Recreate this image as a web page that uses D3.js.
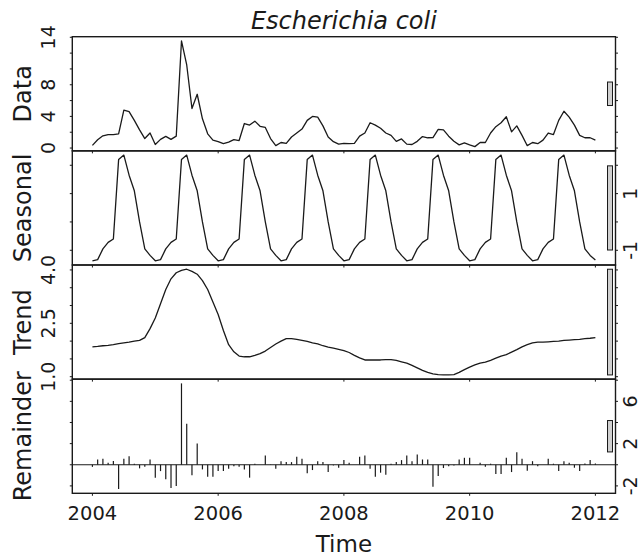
<!DOCTYPE html>
<meta charset="utf-8">
<body style="margin:0;background:#fff">
<script src="https://d3js.org/d3.v7.min.js"></script>
<script>

var width = 642,
    height = 560;

// monthly series, Jan 2004 .. Jan 2012
var startYear = 2004,
    freq = 12;

var dataVals = [
  0.34, 1.05, 1.55, 1.70, 1.70, 1.80, 4.80, 4.60, 3.50, 2.30, 1.20, 1.90,
  0.45, 1.10, 1.48, 1.10, 1.50, 13.54, 10.5, 5.00, 6.80, 3.70, 1.80, 1.00,
  0.80, 0.55, 0.75, 1.06, 0.95, 3.10, 2.90, 3.40, 2.75, 2.60, 1.20, 0.30,
  0.70, 0.60, 1.40, 1.90, 2.40, 3.50, 4.00, 3.90, 2.80, 1.40, 0.80, 0.50,
  0.60, 0.55, 0.60, 1.50, 1.90, 3.20, 2.90, 2.50, 1.90, 1.60, 0.85, 1.15,
  0.50, 0.45, 0.85, 1.45, 1.30, 1.32, 2.35, 2.30, 1.50, 0.85, 0.40, 0.65,
  0.40, 0.18, 0.70, 0.70, 1.90, 2.70, 3.20, 3.95, 2.05, 2.80, 1.60, 0.30,
  0.70, 0.55, 1.00, 1.90, 1.70, 3.50, 4.65, 3.90, 2.90, 1.60, 1.30, 1.30,
  1.00
];

var seasonal = [
  -1.37, -1.33, -0.95, -0.72, -0.60, 2.20, 2.36, 1.65, 1.10, 0.00, -0.95, -1.18,
  -1.37, -1.33, -0.95, -0.72, -0.60, 2.20, 2.36, 1.65, 1.10, 0.00, -0.95, -1.18,
  -1.37, -1.33, -0.95, -0.72, -0.60, 2.20, 2.36, 1.65, 1.10, 0.00, -0.95, -1.18,
  -1.37, -1.33, -0.95, -0.72, -0.60, 2.20, 2.36, 1.65, 1.10, 0.00, -0.95, -1.18,
  -1.37, -1.33, -0.95, -0.72, -0.60, 2.20, 2.36, 1.65, 1.10, 0.00, -0.95, -1.18,
  -1.37, -1.33, -0.95, -0.72, -0.60, 2.20, 2.36, 1.65, 1.10, 0.00, -0.95, -1.18,
  -1.37, -1.33, -0.95, -0.72, -0.60, 2.20, 2.36, 1.65, 1.10, 0.00, -0.95, -1.18,
  -1.37, -1.33, -0.95, -0.72, -0.60, 2.20, 2.36, 1.65, 1.10, 0.00, -0.95, -1.18,
  -1.34
];

var trend = [
  1.84, 1.85, 1.87, 1.88, 1.90, 1.93, 1.95, 1.97, 2.00, 2.02, 2.10, 2.35,
  2.65, 3.05, 3.45, 3.75, 3.92, 3.99, 4.02, 3.96, 3.88, 3.70, 3.45, 3.10,
  2.75, 2.30, 1.90, 1.70, 1.58, 1.56, 1.56, 1.60, 1.65, 1.72, 1.82, 1.92,
  2.00, 2.07, 2.07, 2.05, 2.02, 1.99, 1.95, 1.92, 1.87, 1.83, 1.80, 1.77,
  1.73, 1.68, 1.60, 1.53, 1.47, 1.47, 1.47, 1.47, 1.48, 1.48, 1.46, 1.42,
  1.38, 1.32, 1.25, 1.18, 1.12, 1.08, 1.06, 1.05, 1.05, 1.06, 1.12, 1.20,
  1.27, 1.33, 1.38, 1.41, 1.46, 1.52, 1.58, 1.62, 1.69, 1.76, 1.84, 1.90,
  1.95, 1.97, 1.97, 1.98, 1.99, 2.00, 2.02, 2.03, 2.04, 2.05, 2.07, 2.08,
  2.10
];

var remainder = [
  -0.20, 0.50, 0.56, 0.20, 0.35, -2.30, 0.56, 0.81, 0.10, -0.34, -0.19, 0.50,
  -1.22, -0.60, -1.38, -2.20, -2.00, 7.70, 3.88, -1.00, 2.00, -0.44, -1.13, -1.13,
  -0.60, -0.60, -0.38, -0.13, -0.19, -0.44, -1.22, 0.10, 0.00, 0.88, 0.03, -0.38,
  0.34, 0.25, 0.25, 0.75, 0.56, -0.81, -0.50, 0.34, 0.25, -0.69, -0.06, -0.28,
  0.44, 0.19, 0.00, 0.75, 0.88, -0.38, -1.13, -0.75, -0.94, 0.10, 0.25, 0.44,
  0.88, 0.34, 0.97, 0.50, 0.50, -2.07, -1.06, -0.31, -0.13, -0.06, 0.50, 0.66,
  0.66, 0.00, 0.19, -0.19, 0.10, -0.88, -0.88, 0.66, -0.69, 1.19, 0.56, -0.56,
  0.34, -0.13, 0.00, 0.56, 0.10, -0.60, 0.34, 0.19, -0.28, -0.60, 0.13, 0.44,
  0.13
];

var yearTicks = [2004, 2006, 2008, 2010, 2012];

// R prints a plain hyphen for negatives
function plain(d) { return String(d); }
function oneDec(d) { return d.toFixed(1); }

var panels = [
  { name: "Data",      values: dataVals,  ticks: [0, 2, 4, 6, 8, 10, 12, 14], labels: [0, 4, 8, 14], side: "left",  fmt: plain },
  { name: "Seasonal",  values: seasonal,  ticks: [-1, 0, 1, 2],              labels: [-1, 1],       side: "right", fmt: plain },
  { name: "Trend",     values: trend,     ticks: [1, 1.5, 2, 2.5, 3, 3.5, 4], labels: [1, 2.5, 4],  side: "left",  fmt: oneDec },
  { name: "Remainder", values: remainder, ticks: [-2, 0, 2, 4, 6, 8],        labels: [-2, 2, 6],    side: "right", fmt: plain, bars: true }
];

var plotLeft = 72.3, plotRight = 615.5, plotTop = 36.7, panelH = 114.15;
var font = "DejaVu Sans, Verdana, sans-serif";
var ink = "#1a1a1a";

var svg = d3.select("body").append("svg")
    .attr("width", width)
    .attr("height", height)
    .style("display", "block");

var t0 = startYear, t1 = startYear + (dataVals.length - 1) / freq;
var x = d3.scaleLinear()
    .domain([t0 - 0.04 * (t1 - t0), t1 + 0.04 * (t1 - t0)])
    .range([plotLeft, plotRight]);

function time(i) { return startYear + i / freq; }

// y scale per panel, with R's 4% padding
panels.forEach(function(p, k) {
  var ext = d3.extent(p.values), pad = 0.04 * (ext[1] - ext[0]);
  p.range = ext[1] - ext[0];
  p.y0 = plotTop + k * panelH;
  p.y = d3.scaleLinear()
      .domain([ext[0] - pad, ext[1] + pad])
      .range([p.y0 + panelH, p.y0]);
});

// range bars all show the same span (the smallest one)
var minRange = d3.min(panels, function(p) { return p.range; });

svg.append("text")
    .attr("x", (plotLeft + plotRight) / 2)
    .attr("y", 29)
    .attr("text-anchor", "middle")
    .style("font-family", font)
    .style("font-style", "italic")
    .style("font-size", "24px")
    .style("fill", ink)
    .text("Escherichia coli");

panels.forEach(function(p, k) {
  var g = svg.append("g");
  var y = p.y;

  if (p.bars) {
    g.append("line")
        .attr("x1", plotLeft).attr("x2", plotRight)
        .attr("y1", y(0)).attr("y2", y(0))
        .attr("stroke", ink).attr("stroke-width", 1.2);
    g.selectAll("line.bar")
        .data(p.values)
      .enter().append("line")
        .attr("class", "bar")
        .attr("x1", function(d, i) { return x(time(i)); })
        .attr("x2", function(d, i) { return x(time(i)); })
        .attr("y1", y(0))
        .attr("y2", function(d) { return y(d); })
        .attr("stroke", ink).attr("stroke-width", 1.2);
  } else {
    var line = d3.line()
        .x(function(d, i) { return x(time(i)); })
        .y(function(d) { return y(d); });
    g.append("path")
        .datum(p.values)
        .attr("d", line)
        .attr("fill", "none")
        .attr("stroke", ink)
        .attr("stroke-width", 1.3)
        .attr("stroke-linejoin", "round");
  }

  // frame
  g.append("rect")
      .attr("x", plotLeft).attr("y", p.y0)
      .attr("width", plotRight - plotLeft).attr("height", panelH)
      .attr("fill", "none").attr("stroke", ink).attr("stroke-width", 1.4);

  // range bar
  var mid = p.y0 + panelH / 2,
      half = (y(0) - y(minRange)) / 2;
  g.append("rect")
      .attr("x", 607.5).attr("y", mid - half)
      .attr("width", 5).attr("height", 2 * half)
      .attr("fill", "#d0d0d0").attr("stroke", ink).attr("stroke-width", 1);

  // y ticks on both sides
  var dom = y.domain();
  var tv = p.ticks.filter(function(v) { return v >= dom[0] && v <= dom[1] + 1e-9; });
  [plotLeft, plotRight].forEach(function(xx) {
    var dir = xx === plotLeft ? -1 : 1;
    g.selectAll(null)
        .data(tv)
      .enter().append("line")
        .attr("x1", xx).attr("x2", xx + dir * 2.5)
        .attr("y1", function(d) { return y(d); })
        .attr("y2", function(d) { return y(d); })
        .attr("stroke", ink);
  });

  // tick labels, rotated like R's las = 0
  var lx = p.side === "left" ? 55 : 637;
  g.selectAll(null)
      .data(p.labels)
    .enter().append("text")
      .attr("transform", function(d) { return "translate(" + lx + "," + y(d) + ") rotate(-90)"; })
      .attr("text-anchor", "middle")
      .style("font-family", font)
      .style("font-size", "19px")
      .style("fill", ink)
      .text(p.fmt);

  // panel label
  svg.append("text")
      .attr("transform", "translate(31," + mid + ") rotate(-90)")
      .attr("text-anchor", "middle")
      .style("font-family", font)
      .style("font-size", "24px")
      .style("fill", ink)
      .text(p.name);

  // x ticks under each panel
  g.selectAll(null)
      .data(yearTicks)
    .enter().append("line")
      .attr("x1", function(d) { return x(d); })
      .attr("x2", function(d) { return x(d); })
      .attr("y1", p.y0 + panelH)
      .attr("y2", p.y0 + panelH + 2.5)
      .attr("stroke", ink);
});

svg.selectAll("text.year")
    .data(yearTicks)
  .enter().append("text")
    .attr("class", "year")
    .attr("x", function(d) { return x(d); })
    .attr("y", 520)
    .attr("text-anchor", "middle")
    .style("font-family", font)
    .style("font-size", "19.5px")
    .style("fill", ink)
    .text(function(d) { return d; });

svg.append("text")
    .attr("x", (plotLeft + plotRight) / 2)
    .attr("y", 552)
    .attr("text-anchor", "middle")
    .style("font-family", font)
    .style("font-size", "23px")
    .style("fill", ink)
    .text("Time");

</script>
